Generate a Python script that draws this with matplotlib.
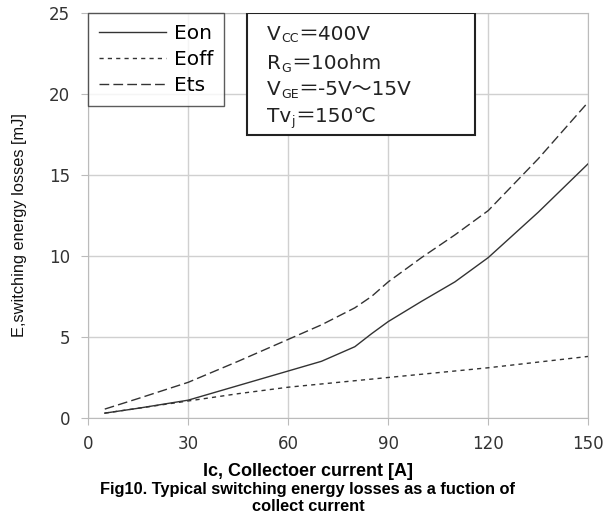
import matplotlib.pyplot as plt
from matplotlib.patches import Rectangle
from matplotlib.transforms import offset_copy

ic = [5, 15, 30, 45, 60, 70, 80, 85, 90, 100, 110, 120, 135, 150]
e_on = [0.3, 0.6, 1.1, 2.0, 2.9, 3.5, 4.4, 5.2, 5.95, 7.2, 8.4, 9.9, 12.7, 15.7]
e_off = [0.3, 0.6, 1.05, 1.5, 1.9, 2.1, 2.3, 2.4, 2.5, 2.7, 2.9, 3.1, 3.45, 3.8]
e_ts = [0.55, 1.2, 2.2, 3.5, 4.85, 5.75, 6.8, 7.5, 8.4, 9.9, 11.3, 12.8, 16.0, 19.5]

xticks = [0, 30, 60, 90, 120, 150]
yticks = [0, 5, 10, 15, 20, 25]

# (main, subscript, rest)
cond_lines = [('V', 'CC', '\uff1d400V'),
              ('R', 'G', '\uff1d10ohm'),
              ('V', 'GE', '\uff1d-5V\uff5e15V'),
              ('Tv', 'j', '\uff1d150\u2103')]

plt.rcParams['font.family'] = ['DejaVu Sans', 'Noto Sans CJK SC']

fig = plt.figure(figsize=(6.16, 5.17), dpi=100)
ax = fig.add_axes([0.143, 0.1915, 0.812, 0.7835])

ax.plot(ic, e_on, color='#333333', lw=1.0, label='Eon')
ax.plot(ic, e_off, color='#333333', lw=1.0, dashes=(3, 3), label='Eoff')
ax.plot(ic, e_ts, color='#333333', lw=1.0, dashes=(7, 3), label='Ets')

ax.set_xlim(0, 150)
ax.set_ylim(0, 25)
ax.set_xticks(xticks)
ax.set_yticks(yticks)
ax.grid(True, color='#d0d0d0', lw=1.0)
ax.set_axisbelow(True)
for s in ax.spines.values():
    s.set_color('#bbbbbb')
ax.tick_params(colors='#bbbbbb', labelcolor='#333333', labelsize=12, length=5)
ax.tick_params(axis='x', pad=7)
ax.tick_params(axis='y', pad=8)

ax.set_ylabel('E,switching energy losses [mJ]', fontsize=11.8,
              family=['Liberation Sans Narrow', 'Liberation Sans'], color='#111111')
ax.yaxis.set_label_coords(-0.122, 0.476)

leg = ax.legend(loc='upper left', bbox_to_anchor=(0.0, 1.0), fontsize=14.5, frameon=True,
                fancybox=False, edgecolor='#333333', handlelength=3.3, borderaxespad=0,
                labelspacing=0.35, handletextpad=0.4, borderpad=0.55)
leg.get_frame().set_linewidth(1.0)
for h in leg.get_lines():
    h.set_color('#333333')

ax.add_patch(Rectangle((0.318, 0.699), 0.456, 0.3, transform=ax.transAxes,
                       fc='white', ec='#222222', lw=1.5, zorder=5))
renderer = fig.canvas.get_renderer()
for (main, sub, rest), yy in zip(cond_lines, [0.934, 0.862, 0.798, 0.731]):
    t = ax.text(0.358, yy, main, transform=ax.transAxes, ha='left', va='baseline',
                fontsize=14.4, color='#222222', zorder=6)
    w = t.get_window_extent(renderer).width * 72 / fig.dpi
    tr = offset_copy(ax.transAxes, fig=fig, x=w, y=-2, units='points')
    t2 = ax.text(0.358, yy, sub, transform=tr, ha='left', va='baseline',
                 fontsize=9, color='#222222', zorder=6)
    w2 = t2.get_window_extent(renderer).width * 72 / fig.dpi
    tr = offset_copy(ax.transAxes, fig=fig, x=w + w2, y=0, units='points')
    ax.text(0.358, yy, rest, transform=tr, ha='left', va='baseline',
            fontsize=14.4, color='#222222', zorder=6)

cap = ['Liberation Sans', 'DejaVu Sans']
fig.text(0.5, 0.088, 'Ic, Collectoer current [A]', ha='center', va='center',
         fontsize=13, fontweight='bold', family=cap)
fig.text(0.5, 0.054, 'Fig10. Typical switching energy losses as a fuction of',
         ha='center', va='center', fontsize=11.8, fontweight='bold', family=cap)
fig.text(0.5, 0.02, 'collect current', ha='center', va='center',
         fontsize=11.8, fontweight='bold', family=cap)

fig.savefig('out.png', dpi=100)
